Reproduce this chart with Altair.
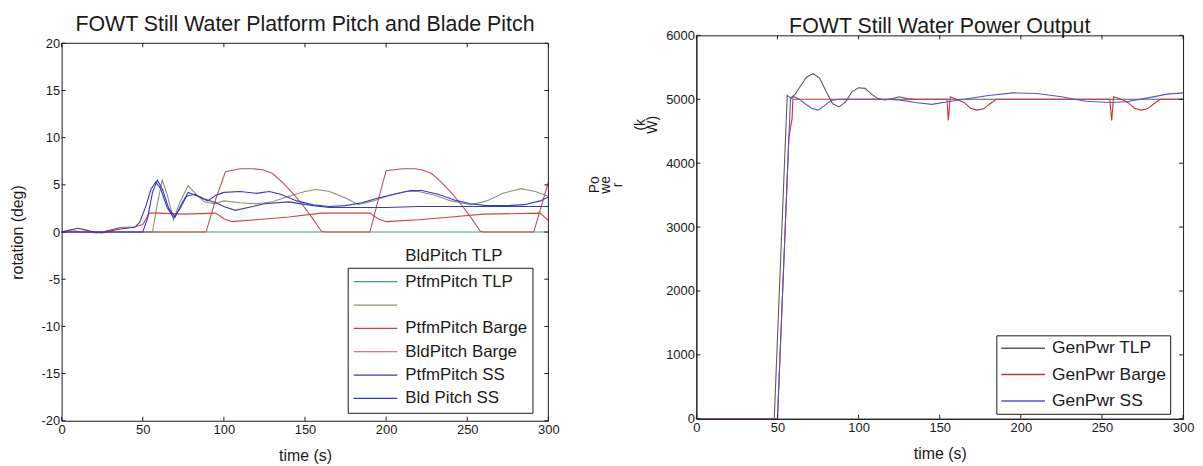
import altair as alt
import pandas as pd

FONT = "Liberation Sans"
INK = "#1a1a1a"

# ---------------- left panel: platform pitch & blade pitch ----------------
left_names = ["PtfmPitch TLP", "BldPitch TLP", "PtfmPitch Barge",
              "BldPitch Barge", "PtfmPitch SS", "Bld Pitch SS"]
left_colors = ["#3f9f77", "#8d9271", "#d6403f", "#b0585a", "#3c3ca2", "#3535d6"]

ptfm_tlp_t = [0, 300]
ptfm_tlp_v = [0, 0]

bld_tlp_t = [0, 56, 59, 62, 65, 69, 73, 78, 83, 88, 94, 100, 110, 120, 130, 140,
             150, 157, 165, 175, 183, 192, 202, 212, 220, 230, 240, 252, 262, 272,
             283, 292, 300]
bld_tlp_v = [0, 0, 3.0, 5.5, 4.0, 1.3, 3.2, 4.9, 4.0, 3.2, 3.0, 3.3, 3.1, 3.0, 3.2, 3.8,
             4.3, 4.5, 4.3, 3.6, 2.9, 3.3, 3.9, 4.3, 4.3, 3.9, 3.3, 2.9, 3.3, 4.1,
             4.6, 4.3, 3.8]

ptfm_barge_t = [0, 8, 15, 22, 30, 37, 44, 50, 54, 60, 75, 95, 100, 105, 120, 140,
                160, 190, 195, 200, 220, 240, 260, 295, 300]
ptfm_barge_v = [0, 0.1, 0, -0.1, 0.2, 0.5, 0.5, 0.8, 2.0, 2.0, 1.9, 2.0, 1.4, 1.1, 1.3, 1.6,
                2.0, 2.0, 1.4, 1.1, 1.3, 1.6, 1.9, 2.0, 1.2]

bld_barge_t = [0, 89, 95, 101, 110, 118, 124, 130, 136, 142, 148, 154, 160, 162,
               190, 195, 200, 210, 218, 222, 228, 234, 240, 246, 252, 258, 260,
               291, 300]
bld_barge_v = [0, 0, 3.5, 6.4, 6.7, 6.7, 6.6, 6.2, 5.3, 4.2, 3.0, 1.6, 0.1, 0,
               0, 3.3, 6.5, 6.7, 6.7, 6.6, 6.2, 5.3, 4.2, 3.0, 1.6, 0.1, 0,
               0, 5.3]

ptfm_ss_t = [0, 5, 10, 15, 20, 25, 30, 35, 40, 45, 48, 52, 55, 58, 61, 65, 69, 73,
             77, 82, 88, 95, 100, 107, 115, 125, 140, 155, 165, 180, 200, 220, 240,
             260, 280, 300]
ptfm_ss_v = [0, 0.2, 0.4, 0.2, 0, -0.1, 0.1, 0.3, 0.4, 0.5, 1.0, 2.8, 4.5, 5.3, 4.6,
             2.6, 1.5, 2.5, 3.8, 4.0, 3.5, 3.1, 2.7, 2.3, 2.6, 3.0, 3.2, 2.8, 2.6, 2.6,
             2.6, 2.7, 2.7, 2.7, 2.7, 2.7]

bld_ss_t = [0, 50, 53, 56, 59, 62, 66, 70, 74, 78, 84, 90, 95, 100, 110, 120, 128,
            135, 145, 155, 165, 175, 185, 195, 205, 215, 222, 232, 242, 252, 262,
            275, 285, 295, 300]
bld_ss_v = [0, 0, 1.5, 4.2, 5.5, 4.6, 2.5, 1.6, 3.0, 4.2, 3.8, 3.3, 3.9, 4.2, 4.3,
            4.1, 4.3, 4.0, 3.3, 2.9, 2.7, 2.8, 3.1, 3.6, 4.0, 4.4, 4.4, 4.0, 3.4,
            3.0, 2.8, 2.8, 2.9, 3.3, 3.7]

left_series = [(ptfm_tlp_t, ptfm_tlp_v), (bld_tlp_t, bld_tlp_v),
               (ptfm_barge_t, ptfm_barge_v), (bld_barge_t, bld_barge_v),
               (ptfm_ss_t, ptfm_ss_v), (bld_ss_t, bld_ss_v)]

left_x_ticks = [0, 50, 100, 150, 200, 250, 300]
left_y_ticks = [-20, -15, -10, -5, 0, 5, 10, 15, 20]

# ---------------- right panel: generator power ----------------
right_names = ["GenPwr TLP", "GenPwr Barge", "GenPwr SS"]
right_colors = ["#5c5c5c", "#c8303a", "#5656c8"]

pwr_tlp_t = [0, 48, 56, 58, 61, 64, 68, 72, 76, 80, 84, 88, 92, 96, 100, 104, 108,
             112, 116, 121, 125, 130, 135, 300]
pwr_tlp_v = [0, 0, 5060, 5020, 5080, 5200, 5350, 5400, 5330, 5120, 4930, 4880, 4960,
             5120, 5180, 5170, 5080, 5010, 4990, 5010, 5040, 5010, 5000, 5000]

pwr_barge_t = [0, 50, 57, 59, 59.5, 65, 100, 150, 154.5, 155.3, 156.5, 160, 165, 169,
               173, 177, 181, 185, 250, 254.8, 256.0, 257.2, 262, 266, 270, 274, 278,
               282, 286, 300]
pwr_barge_v = [0, 0, 4400, 4700, 5000, 5000, 5000, 5000, 5000, 4670, 5040, 5000, 4950,
               4860, 4830, 4850, 4930, 5000, 5000, 5000, 4670, 5040, 5000, 4950, 4860,
               4830, 4850, 4930, 5000, 5000]

pwr_ss_t = [0, 50, 58, 60, 63, 67, 71, 75, 79, 83, 88, 100, 115, 125, 135, 145, 155,
            165, 180, 195, 210, 225, 240, 255, 265, 280, 290, 300]
pwr_ss_v = [0, 0, 5000, 5040, 5010, 4930, 4860, 4830, 4900, 4980, 5000, 5000, 5000,
            4990, 4950, 4920, 4960, 5000, 5060, 5100, 5090, 5040, 4970, 4950, 4960,
            5030, 5080, 5100]

right_series = [(pwr_tlp_t, pwr_tlp_v), (pwr_barge_t, pwr_barge_v), (pwr_ss_t, pwr_ss_v)]

right_x_ticks = [0, 50, 100, 150, 200, 250, 300]
right_y_ticks = [0, 1000, 2000, 3000, 4000, 5000, 6000]


def long_frame(names, series):
    rows = []
    for name, (ts, vs) in zip(names, series):
        for t, v in zip(ts, vs):
            rows.append({"series": name, "t": t, "v": v})
    return pd.DataFrame(rows)


df_left = long_frame(left_names, left_series)
df_right = long_frame(right_names, right_series)

W = 490
HL = 388      # left view (box occupies rows 8..388 of it)
LTOP = 8
HR = 386
TICK = 4


def x_axis(vals):
    return alt.Axis(values=vals, title="time (s)", titleFont=FONT,
                    titleFontSize=16, titleFontWeight="normal", titleColor=INK,
                    titlePadding=11, labelFont=FONT, labelFontSize=13,
                    labelColor=INK, labelPadding=3, labelFlush=False,
                    ticks=False, grid=False, domainColor=INK, labelOverlap=False)


def inward_ticks(top, h, xvals, yvals):
    xt = pd.DataFrame({"t": xvals})
    yt = pd.DataFrame({"v": yvals})
    layers = [
        alt.Chart(xt).mark_rule(color=INK, strokeWidth=1).encode(
            x="t:Q", y=alt.value(top), y2=alt.value(top + TICK)),
        alt.Chart(xt).mark_rule(color=INK, strokeWidth=1).encode(
            x="t:Q", y=alt.value(h), y2=alt.value(h - TICK)),
        alt.Chart(yt).mark_rule(color=INK, strokeWidth=1).encode(
            y="v:Q", x=alt.value(0), x2=alt.value(TICK)),
        alt.Chart(yt).mark_rule(color=INK, strokeWidth=1).encode(
            y="v:Q", x=alt.value(W), x2=alt.value(W - TICK)),
    ]
    return layers


# ---- left chart ----
left_lines = alt.Chart(df_left).mark_line(strokeWidth=1.1, clip=True).encode(
    x=alt.X("t:Q", scale=alt.Scale(domain=[0, 300], nice=False), axis=x_axis(left_x_ticks)),
    y=alt.Y("v:Q", scale=alt.Scale(domain=[-20, 20], range=[HL, LTOP], nice=False),
            axis=alt.Axis(values=left_y_ticks, title="rotation (deg)", titleFont=FONT,
                          labelExpr="toString(datum.value)",
                          titleFontSize=16, titleFontWeight="normal", titleColor=INK,
                          titleX=-44, titleY=(HL + LTOP) / 2, titleAngle=270,
                          titleAlign="center", titleBaseline="middle",
                          labelFont=FONT, labelFontSize=13, labelColor=INK,
                          labelPadding=2, ticks=False, grid=False, domainColor=INK)),
    color=alt.Color("series:N", scale=alt.Scale(domain=left_names, range=left_colors),
                    legend=alt.Legend(orient="none", legendX=288, legendY=234,
                                      title=None, strokeColor=INK, fillColor="white",
                                      padding=5, symbolType="stroke", symbolSize=1936,
                                      symbolStrokeWidth=1.2, labelFont=FONT,
                                      labelFontSize=17, labelColor=INK, clipHeight=18,
                                      rowPadding=5.5, labelOffset=7, symbolLimit=0,
                                      labelExpr="datum.label == 'BldPitch TLP' ? ' ' : datum.label")),
)

# upper and right edges of the axes box
box_top = alt.Chart(pd.DataFrame({"v": [20]})).mark_rule(color=INK, strokeWidth=1).encode(
    y="v:Q")
box_right = alt.Chart(pd.DataFrame({"t": [300], "v": [-20], "v2": [20]})).mark_rule(
    color=INK, strokeWidth=1).encode(x="t:Q", y="v:Q", y2="v2:Q")

left_extra = alt.Chart(pd.DataFrame({"label": ["BldPitch TLP"]})).mark_text(
    font=FONT, fontSize=17, color=INK, align="left", baseline="middle"
).encode(x=alt.value(346), y=alt.value(222), text="label:N")

left_chart = alt.layer(
    left_lines, box_top, box_right, left_extra,
    *inward_ticks(LTOP, HL, left_x_ticks, left_y_ticks)
).properties(
    width=W, height=HL,
    view=alt.ViewBackground(stroke="transparent"),
    title=alt.TitleParams("FOWT Still Water Platform Pitch and Blade Pitch",
                          font=FONT, fontSize=21.5, fontWeight="normal", color=INK,
                          offset=0, anchor="middle", frame="group"),
)

# ---- right chart ----
right_lines = alt.Chart(df_right).mark_line(strokeWidth=1.1, clip=True).encode(
    x=alt.X("t:Q", scale=alt.Scale(domain=[0, 300], nice=False), axis=x_axis(right_x_ticks)),
    y=alt.Y("v:Q", scale=alt.Scale(domain=[0, 6000], nice=False),
            axis=alt.Axis(values=right_y_ticks, format="d", title=["Po", "we", "r"],
                          titleFont=FONT, titleFontSize=14, titleFontWeight="normal",
                          titleColor=INK, titleX=-103, titleY=150, titleAngle=270,
                          titleAlign="center", titleBaseline="middle",
                          titleLineHeight=12,
                          labelFont=FONT, labelFontSize=13, labelColor=INK,
                          labelPadding=2, ticks=False, grid=False, domainColor=INK)),
    color=alt.Color("series:N", scale=alt.Scale(domain=right_names, range=right_colors),
                    legend=alt.Legend(orient="none", legendX=302, legendY=302,
                                      title=None, strokeColor=INK, fillColor="white",
                                      padding=4, symbolType="stroke", symbolSize=1936,
                                      symbolStrokeWidth=1.5, labelFont=FONT,
                                      labelFontSize=17.5, labelColor=INK, clipHeight=18,
                                      rowPadding=8.5, labelOffset=6, symbolLimit=0)),
)

right_unit = alt.Chart(pd.DataFrame({"u": [0]})).mark_text(
    text=["(k", "W)"], font=FONT, fontSize=14, color=INK, angle=270,
    align="center", baseline="middle", lineHeight=12
).encode(x=alt.value(-56), y=alt.value(90))

right_chart = alt.layer(
    right_lines, right_unit,
    *inward_ticks(0, HR, right_x_ticks, right_y_ticks)
).properties(
    width=W, height=HR,
    view=alt.ViewBackground(stroke=INK, strokeWidth=1),
    title=alt.TitleParams("FOWT Still Water Power Output",
                          font=FONT, fontSize=21.5, fontWeight="normal", color=INK,
                          offset=-8, anchor="middle", frame="group"),
)

chart = alt.hconcat(left_chart, right_chart, spacing=26).resolve_scale(
    color="independent", x="independent", y="independent"
).resolve_legend(color="independent").properties(
    padding={"left": 1, "top": 4, "right": 0, "bottom": 0}, background="white"
)

chart.save("out.html", embed_options={"renderer": "svg", "actions": False})
